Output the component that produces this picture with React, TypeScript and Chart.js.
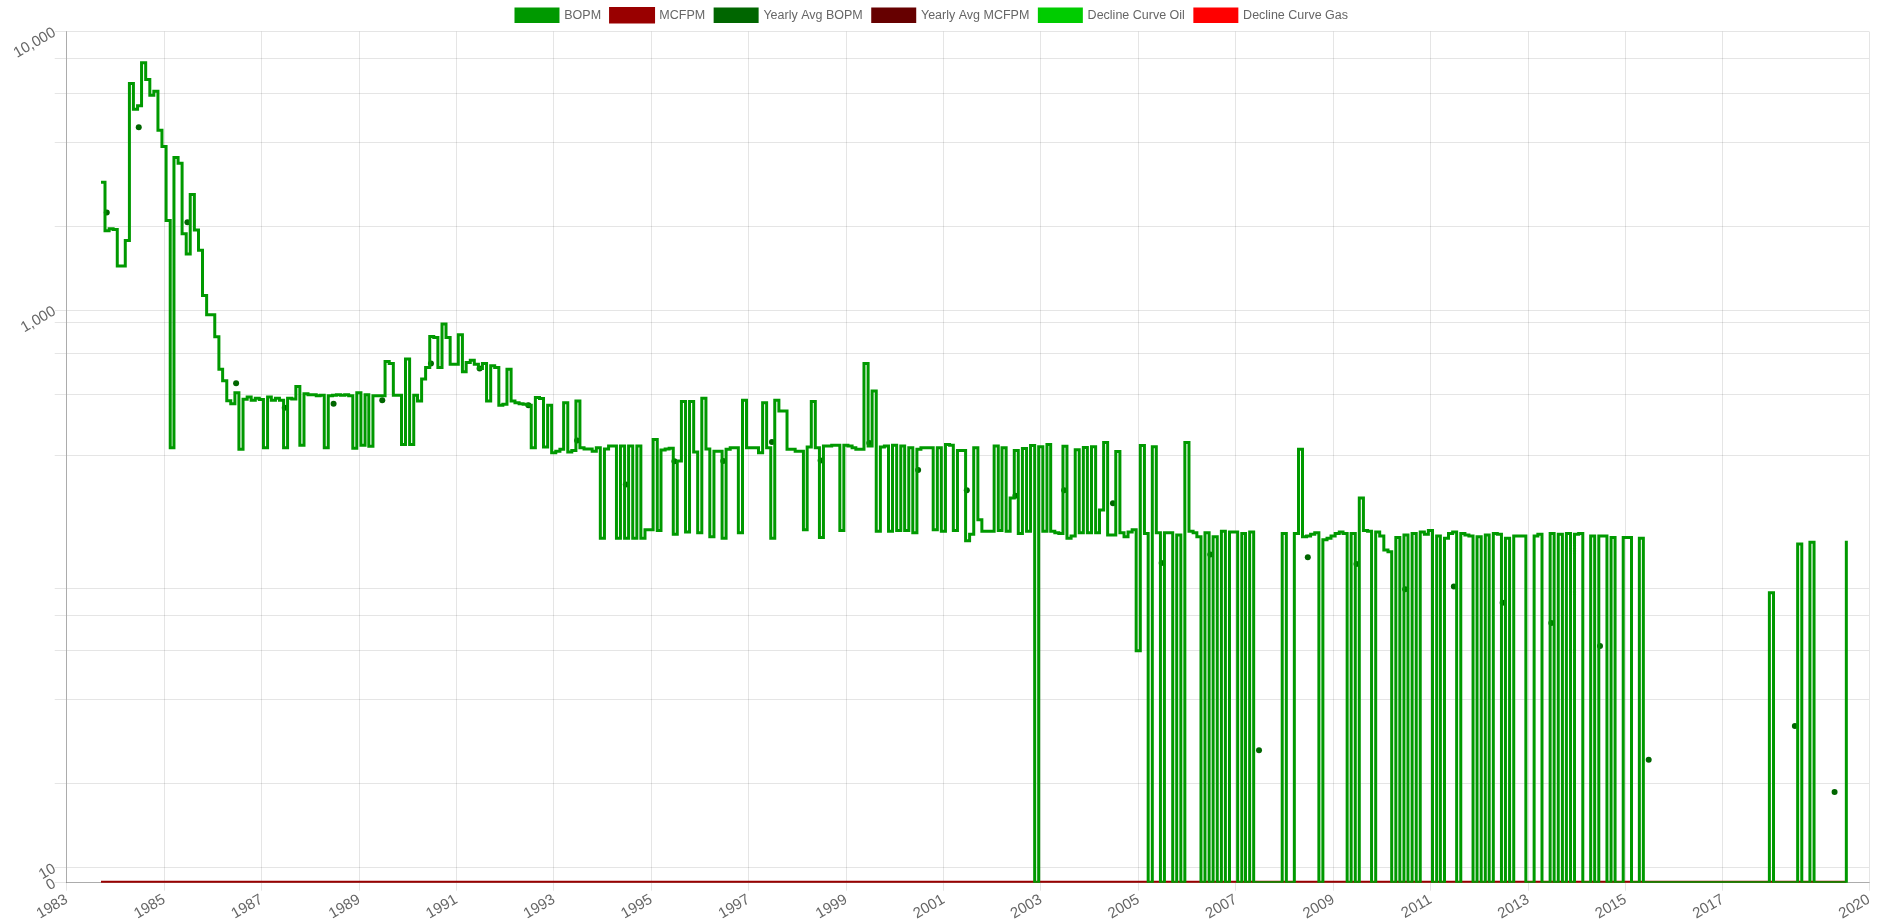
import React, { useEffect, useRef } from 'react';
import { Chart, registerables } from 'chart.js';

Chart.register(...registerables);

// Monthly oil production (BOPM), one array per calendar year; 1983 starts in September.
const bopm1983 = [2880, 1930, 1960, 1950];
const bopm1984 = [1440, 1440, 1780, 6510, 5260, 5410, 7720, 6730, 5910, 6110, 4420, 3870];
const bopm1985 = [2100, 321, 3530, 3370, 1880, 1590, 2600, 1940, 1640, 1130, 963, 963];
const bopm1986 = [803, 614, 558, 473, 462, 506, 317, 479, 488, 475, 483, 478];
const bopm1987 = [321, 488, 475, 483, 475, 321, 483, 480, 532, 328, 502, 497];
const bopm1988 = [497, 493, 495, 321, 493, 495, 497, 495, 497, 493, 320, 506];
const bopm1989 = [328, 497, 325, 493, 493, 493, 655, 644, 495, 495, 330, 668];
const bopm1990 = [330, 495, 472, 566, 623, 805, 798, 623, 892, 798, 640, 640];
const bopm1991 = [816, 601, 649, 662, 640, 618, 644, 472, 632, 623, 456, 460];
const bopm1992 = [614, 472, 466, 462, 460, 456, 321, 486, 482, 323, 456, 308];
const bopm1993 = [312, 317, 466, 310, 314, 472, 321, 318, 318, 312, 321, 152];
const bopm1994 = [318, 326, 326, 152, 326, 152, 326, 152, 326, 152, 163, 163];
const bopm1995 = [344, 162, 315, 318, 320, 157, 288, 470, 160, 470, 310, 159];
const bopm1996 = [483, 318, 154, 312, 312, 152, 317, 321, 321, 159, 475, 321];
const bopm1997 = [321, 321, 308, 466, 321, 152, 475, 435, 435, 317, 317, 312];
const bopm1998 = [312, 163, 323, 470, 321, 153, 326, 326, 328, 328, 162, 328];
const bopm1999 = [326, 321, 317, 317, 644, 326, 513, 161, 323, 326, 161, 328];
const bopm2000 = [162, 326, 162, 321, 159, 317, 321, 321, 321, 163, 321, 161];
const bopm2001 = [330, 328, 162, 314, 314, 149, 157, 321, 177, 161, 161, 161];
const bopm2002 = [326, 162, 321, 161, 212, 314, 158, 319, 161, 327, 0, 324];
const bopm2003 = [161, 330, 161, 159, 158, 325, 152, 155, 316, 159, 322, 159];
const bopm2004 = [324, 159, 192, 335, 156, 156, 311, 159, 154, 160, 163, 60];
const bopm2005 = [327, 158, 0, 324, 159, 0, 159, 159, 0, 156, 0, 335];
const bopm2006 = [161, 159, 154, 0, 159, 0, 154, 0, 161, 0, 160, 160];
const bopm2007 = [0, 158, 0, 160, 0, 0, 0, 0, 0, 0, 0, 158];
const bopm2008 = [0, 0, 158, 317, 154, 155, 157, 159, 0, 150, 152, 155];
const bopm2009 = [158, 160, 158, 0, 158, 0, 212, 162, 161, 0, 160, 155];
const bopm2010 = [138, 136, 0, 153, 0, 156, 0, 158, 0, 160, 157, 162];
const bopm2011 = [0, 155, 0, 152, 158, 160, 0, 158, 156, 155, 0, 154];
const bopm2012 = [0, 156, 0, 158, 157, 0, 152, 0, 155, 155, 155, 0];
const bopm2013 = [0, 155, 157, 0, 0, 158, 0, 157, 0, 158, 0, 157];
const bopm2014 = [158, 0, 0, 155, 0, 155, 155, 0, 153, 0, 0, 153];
const bopm2015 = [153, 0, 0, 152, 0, 0, 0, 0, 0, 0, 0, 0];
const bopm2016 = [0, 0, 0, 0, 0, 0, 0, 0, 0, 0, 0, 0];
const bopm2017 = [0, 0, 0, 0, 0, 0, 0, 0, 0, 0, 0, 97];
const bopm2018 = [0, 0, 0, 0, 0, 0, 145, 0, 0, 147, 0, 0];
const bopm2019 = [0, 0, 0, 0, 0, 0, 149];

const bopmByYear = [
  bopm1983, bopm1984, bopm1985, bopm1986, bopm1987, bopm1988, bopm1989, bopm1990,
  bopm1991, bopm1992, bopm1993, bopm1994, bopm1995, bopm1996, bopm1997, bopm1998,
  bopm1999, bopm2000, bopm2001, bopm2002, bopm2003, bopm2004, bopm2005, bopm2006,
  bopm2007, bopm2008, bopm2009, bopm2010, bopm2011, bopm2012, bopm2013, bopm2014,
  bopm2015, bopm2016, bopm2017, bopm2018, bopm2019,
];

// Monthly gas (MCFPM): zero for every reported month
const mcfpmZeroYear = [0, 0, 0, 0, 0, 0, 0, 0, 0, 0, 0, 0];
const mcfpm1983 = [0, 0, 0, 0];
const mcfpm2019 = [0, 0, 0, 0, 0, 0, 0];

// Yearly averages (BOPM)
const avgDates = [
  '1983-10-28', '1984-06-24', '1985-06-24', '1986-06-24', '1987-06-24', '1988-06-24',
  '1989-06-24', '1990-06-24', '1991-06-24', '1992-06-24', '1993-06-24', '1994-06-24',
  '1995-06-24', '1996-06-24', '1997-06-24', '1998-06-24', '1999-06-24', '2000-06-24',
  '2001-06-24', '2002-06-24', '2003-06-24', '2004-06-24', '2005-06-24', '2006-06-24',
  '2007-06-24', '2008-06-24', '2009-06-24', '2010-06-24', '2011-06-24', '2012-06-24',
  '2013-06-24', '2014-06-24', '2015-06-24', '2018-06-24', '2019-04-18',
];
const avgBopm = [
  2243, 4535, 2069, 547, 447, 462, 475, 644, 618, 456, 341, 237,
  287, 288, 337, 289, 334, 267, 226, 216, 226, 203, 124, 133,
  26.4, 130, 123, 99.8, 102, 89.3, 75.5, 62.4, 24.4, 32.2, 18.7,
];

const legendLabels = ['BOPM', 'MCFPM', 'Yearly Avg BOPM', 'Yearly Avg MCFPM', 'Decline Curve Oil', 'Decline Curve Gas'];
const seriesColors = ['#009900', '#990000', '#006600', '#660000', '#00cc00', '#ff0000'];

const xTickYears = [1983, 1985, 1987, 1989, 1991, 1993, 1995, 1997, 1999, 2001, 2003, 2005, 2007, 2009, 2011, 2013, 2015, 2017, 2020];
const yTickValues = [0, 10, 20, 40, 60, 80, 100, 300, 500, 700, 900, 1000, 2000, 4000, 6000, 8000, 10000];
const yLabeledTicks = [0, 10, 1000, 10000];
const Y_ZERO_VALUE = 8.83; // where "0" sits on the log axis
const Y_MAX = 10000;
const LEGEND_SHIFT = -5.5;

const legendShiftPlugin = {
  id: 'legendShift',
  afterLayout(chart: any) {
    const lg = chart.legend;
    if (lg) {
      lg.left += LEGEND_SHIFT;
      lg.right += LEGEND_SHIFT;
    }
  },
};

export default function App() {
  const canvasRef = useRef<HTMLCanvasElement | null>(null);

  useEffect(() => {
    const canvas = canvasRef.current;
    if (!canvas) return;

    const bopmMonthly = bopmByYear.flat();
    const mcfpmMonthly = [mcfpm1983, ...Array.from({ length: 35 }, () => mcfpmZeroYear), mcfpm2019].flat();
    const monthX = (i: number) => Date.UTC(1983, 8 + i, 15);
    const toY = (v: number) => (v === 0 ? Y_ZERO_VALUE : v);

    const bopmPoints = bopmMonthly.map((v, i) => ({ x: monthX(i), y: toY(v) }));
    const mcfpmPoints = mcfpmMonthly.map((v, i) => ({ x: monthX(i), y: toY(v) }));
    const avgPoints = avgDates.map((d, i) => ({ x: Date.parse(d + 'T00:00:00Z'), y: avgBopm[i] }));

    const font = "Arial, 'Liberation Sans', Helvetica, sans-serif";
    Chart.defaults.font.family = font;
    Chart.defaults.color = '#666';

    const chart = new Chart(canvas, {
      type: 'line',
      data: {
        datasets: [
          {
            label: legendLabels[0], data: bopmPoints, stepped: true,
            borderColor: seriesColors[0], backgroundColor: seriesColors[0],
            borderWidth: 3, pointRadius: 0, fill: false,
          },
          {
            label: legendLabels[1], data: mcfpmPoints, stepped: true,
            borderColor: seriesColors[1], backgroundColor: seriesColors[1],
            borderWidth: 4, pointRadius: 0, fill: false,
          },
          {
            label: legendLabels[2], data: avgPoints, showLine: false,
            borderColor: seriesColors[2], backgroundColor: seriesColors[2],
            pointBackgroundColor: seriesColors[2], pointBorderColor: seriesColors[2],
            borderWidth: 3, pointRadius: 3, pointBorderWidth: 0,
          },
          {
            label: legendLabels[3], data: [], borderColor: seriesColors[3], backgroundColor: seriesColors[3], borderWidth: 3,
          },
          {
            label: legendLabels[4], data: [], borderColor: seriesColors[4], backgroundColor: seriesColors[4], borderWidth: 3,
          },
          {
            label: legendLabels[5], data: [], borderColor: seriesColors[5], backgroundColor: seriesColors[5], borderWidth: 3,
          },
        ],
      },
      options: {
        animation: false,
        responsive: false,
        devicePixelRatio: 1,
        layout: { padding: { left: 6, right: 17 } },
        plugins: {
          legend: {
            position: 'top',
            labels: { boxWidth: 42, font: { size: 12.5, family: font }, color: '#666', padding: 10 },
          },
          tooltip: { enabled: false },
        },
        scales: {
          x: {
            type: 'linear',
            min: Date.UTC(1983, 0, 1),
            max: Date.UTC(2020, 0, 1),
            afterBuildTicks: (scale: any) => {
              scale.ticks = xTickYears.map((y) => ({ value: Date.UTC(y, 0, 1) }));
            },
            ticks: {
              autoSkip: false, minRotation: 30, maxRotation: 30, padding: 0,
              color: '#666', font: { size: 15, family: font },
              callback: (v: any) => String(new Date(Number(v)).getUTCFullYear()),
            },
            grid: { color: 'rgba(0,0,0,0.1)', tickLength: 8 },
            border: { color: 'rgba(0,0,0,0.25)' },
          },
          y: {
            type: 'logarithmic',
            min: Y_ZERO_VALUE,
            max: Y_MAX,
            afterBuildTicks: (scale: any) => {
              scale.ticks = yTickValues.map((v) => ({ value: v === 0 ? Y_ZERO_VALUE : v }));
            },
            ticks: {
              autoSkip: false, minRotation: 30, maxRotation: 30, padding: 0,
              color: '#666', font: { size: 15, family: font },
              callback: (v: any) => {
                const n = Number(v);
                if (Math.abs(n - Y_ZERO_VALUE) < 1e-6) return '0';
                return yLabeledTicks.includes(n) ? n.toLocaleString('en-US') : '';
              },
            },
            grid: { color: 'rgba(0,0,0,0.1)', tickLength: 12 },
            border: { color: 'rgba(0,0,0,0.25)' },
          },
        },
      },
      plugins: [legendShiftPlugin],
    } as any);

    return () => chart.destroy();
  }, []);

  return (
    <div style={{ position: 'absolute', left: 0, top: -1, width: 1886, height: 924, background: '#fff' }}>
      <canvas ref={canvasRef} width={1886} height={924} style={{ display: 'block', width: 1886, height: 924 }} />
    </div>
  );
}
